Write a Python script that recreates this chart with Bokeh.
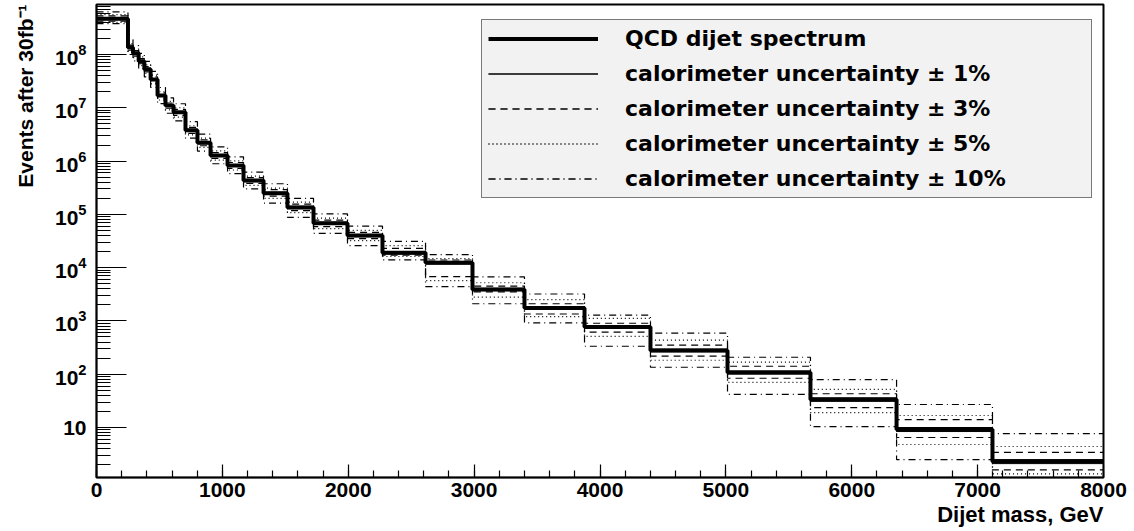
from bokeh.plotting import figure
from bokeh.models import (Range1d, SingleIntervalTicker, LogTicker, LogTickFormatter,
                          Legend, LegendItem, Title)
from bokeh.embed import file_html
from bokeh.resources import INLINE

# ---------------- data ----------------
bin_edges = [0, 250, 290, 335, 380, 430, 485, 548, 612, 707, 802, 906, 1041, 1168,
             1327, 1517, 1724, 1994, 2272, 2614, 2987, 3400, 3877, 4401, 5013,
             5672, 6356, 7118, 8000]

qcd = [4.7e8, 1.35e8, 1.05e8, 7.5e7, 5.3e7, 3.4e7, 1.7e7, 1.1e7, 8.2e6, 3.8e6,
       2.2e6, 1.27e6, 8.3e5, 4.3e5, 2.5e5, 1.35e5, 6.8e4, 4.0e4, 1.9e4, 1.24e4,
       3.9e3, 1.75e3, 770, 280, 108, 33.5, 9.2, 2.3]

unc1_up = [4.9e8, 1.4e8, 1.09e8, 7.8e7, 5.5e7, 3.5e7, 1.77e7, 1.14e7, 8.5e6, 3.95e6,
           2.29e6, 1.32e6, 8.6e5, 4.5e5, 2.6e5, 1.42e5, 7.1e4, 4.2e4, 2.0e4, 1.31e4,
           4.1e3, 1.85e3, 810, 296, 115, 36, 10, 2.5]
unc1_dn = [4.5e8, 1.3e8, 1.01e8, 7.2e7, 5.1e7, 3.3e7, 1.63e7, 1.06e7, 7.9e6, 3.65e6,
           2.11e6, 1.22e6, 8.0e5, 4.1e5, 2.4e5, 1.28e5, 6.5e4, 3.8e4, 1.8e4, 1.17e4,
           3.7e3, 1.65e3, 730, 264, 101, 31, 8.4, 2.1]

unc3_up = [5.3e8, 1.5e8, 1.18e8, 8.4e7, 5.9e7, 3.8e7, 1.9e7, 1.23e7, 9.3e6, 4.3e6,
           2.5e6, 1.44e6, 9.4e5, 4.9e5, 2.9e5, 1.55e5, 7.8e4, 4.6e4, 2.3e4, 1.39e4,
           4.5e3, 2.1e3, 905, 350, 141, 43, 14, 3.4]
unc3_dn = [4.2e8, 1.2e8, 9.3e7, 6.7e7, 4.7e7, 3.0e7, 1.5e7, 9.8e6, 7.2e6, 3.3e6,
           1.94e6, 1.12e6, 7.3e5, 3.8e5, 2.2e5, 1.17e5, 5.9e4, 3.5e4, 1.71e4, 6.8e3,
           3.5e3, 1.35e3, 615, 218, 84, 23.7, 6.5, 1.6]

unc5_up = [5.6e8, 1.6e8, 1.26e8, 9.0e7, 6.4e7, 4.1e7, 2.0e7, 1.32e7, 1.0e7, 4.6e6,
           2.7e6, 1.55e6, 1.01e6, 5.2e5, 3.1e5, 1.69e5, 8.5e4, 5.0e4, 2.6e4, 1.47e4,
           5.2e3, 2.5e3, 1120, 435, 168, 52, 16.8, 4.4]
unc5_dn = [4.0e8, 1.15e8, 8.7e7, 6.2e7, 4.4e7, 2.8e7, 1.4e7, 9.1e6, 6.7e6, 3.1e6,
           1.8e6, 1.04e6, 6.8e5, 3.5e5, 2.0e5, 1.08e5, 5.4e4, 3.2e4, 1.62e4, 5.7e3,
           2.8e3, 1.2e3, 515, 183, 70, 19, 4.8, 1.35]

unc10_up = [6.3e8, 1.9e8, 1.47e8, 1.05e8, 7.4e7, 4.8e7, 2.4e7, 1.54e7, 1.19e7, 5.5e6,
            3.2e6, 1.84e6, 1.2e6, 6.2e5, 3.75e5, 2.0e5, 1.02e5, 6.0e4, 3.1e4, 1.75e4,
            6.7e3, 3.2e3, 1280, 590, 208, 79, 27, 7.7]
unc10_dn = [3.8e8, 1.0e8, 7.6e7, 5.4e7, 3.8e7, 2.4e7, 1.2e7, 7.9e6, 5.7e6, 2.7e6,
            1.54e6, 8.9e5, 5.8e5, 3.0e5, 1.63e5, 8.8e4, 4.4e4, 2.6e4, 1.4e4, 4.4e3,
            2.1e3, 920, 335, 135, 42, 10.4, 2.5, 0.6]

legend_labels = ["QCD dijet spectrum",
                 "calorimeter uncertainty \u00b1 1%",
                 "calorimeter uncertainty \u00b1 3%",
                 "calorimeter uncertainty \u00b1 5%",
                 "calorimeter uncertainty \u00b1 10%"]

x_title = "Dijet mass, GeV"
y_title = "Events after 30fb\u207b\u00b9"

FONT = "Liberation Sans"

# ---------------- figure ----------------
p = figure(width=1134, height=531, y_axis_type="log",
           x_range=Range1d(0, 8000), y_range=Range1d(1.153, 8.67e8),
           output_backend="svg", toolbar_location=None, title=None,
           min_border_left=96, min_border_right=31, min_border_top=4,
           min_border_bottom=54)

p.background_fill_color = "white"
p.border_fill_color = "white"
p.outline_line_color = "black"
p.outline_line_width = 2
p.xgrid.visible = False
p.ygrid.visible = False


def steps(vals):
    return list(vals) + [vals[-1]]


def draw(vals, width, dash):
    return p.step(x=bin_edges, y=steps(vals), mode="after", line_color="black",
                  line_width=width, line_dash=dash)


white = dict(fill_color="white", line_color=None)

r10u = draw(unc10_up, 1.2, "7 4 1 4")
r10d = draw(unc10_dn, 1.2, "7 4 1 4")
r5u = draw(unc5_up, 1.2, "1 3")
r5d = draw(unc5_dn, 1.2, "1 3")
r3u = draw(unc3_up, 1.2, "7 5")
r3d = draw(unc3_dn, 1.2, "7 5")
r1u = draw(unc1_up, 1.0, "solid")
r1d = draw(unc1_dn, 1.0, "solid")
rq = draw(qcd, 4, "solid")

boxes = [p.quad(left=[], right=[], top=[], bottom=[], **white) for _ in range(5)]

items = [
    LegendItem(label=legend_labels[0], renderers=[boxes[0], rq]),
    LegendItem(label=legend_labels[1], renderers=[boxes[1], r1u, r1d]),
    LegendItem(label=legend_labels[2], renderers=[boxes[2], r3u, r3d]),
    LegendItem(label=legend_labels[3], renderers=[boxes[3], r5u, r5d]),
    LegendItem(label=legend_labels[4], renderers=[boxes[4], r10u, r10d]),
]
legend = Legend(items=items, location=(385, 279), orientation="vertical",
                glyph_width=110, glyph_height=25, label_standoff=27,
                label_width=460, label_height=25, spacing=10, padding=6, margin=0,
                border_line_color="black", border_line_width=1.5,
                background_fill_color="#f2f2f2", background_fill_alpha=1.0,
                label_text_font="DejaVu Sans", label_text_font_style="bold",
                label_text_font_size="22px", label_text_color="black")
p.add_layout(legend)

# ---------------- axes ----------------
xa = p.xaxis[0]
xa.ticker = SingleIntervalTicker(interval=1000, num_minor_ticks=5)
xa.major_tick_in = 13
xa.major_tick_out = 0
xa.minor_tick_in = 7
xa.minor_tick_out = 0
xa.axis_line_width = 1.5
xa.major_tick_line_width = 1.2
xa.minor_tick_line_width = 1.2
xa.major_label_standoff = 5
xa.major_label_text_font = FONT
xa.major_label_text_font_style = "bold"
xa.major_label_text_font_size = "21px"
xa.major_label_text_color = "black"

ya = p.yaxis[0]
ya.ticker = LogTicker(desired_num_ticks=9, num_minor_ticks=10)
ya.formatter = LogTickFormatter()
ya.major_label_overrides = {10: "10"}
ya.major_tick_in = 30
ya.major_tick_out = 0
ya.minor_tick_in = 14
ya.minor_tick_out = 0
ya.axis_line_width = 1.5
ya.major_tick_line_width = 1.2
ya.minor_tick_line_width = 1.2
ya.major_label_standoff = 10
ya.major_label_text_font = FONT
ya.major_label_text_font_style = "bold"
ya.major_label_text_font_size = "21px"
ya.major_label_text_color = "black"

p.add_layout(Title(text=x_title, align="right", text_font=FONT,
                   text_font_style="bold", text_font_size="22px",
                   text_color="black", standoff=0), "below")
p.add_layout(Title(text=y_title, align="right", vertical_align="top", text_font=FONT,
                   text_font_style="bold", text_font_size="21px",
                   text_color="black", standoff=26), "left")

open("out.html", "w").write(file_html(p, INLINE))
